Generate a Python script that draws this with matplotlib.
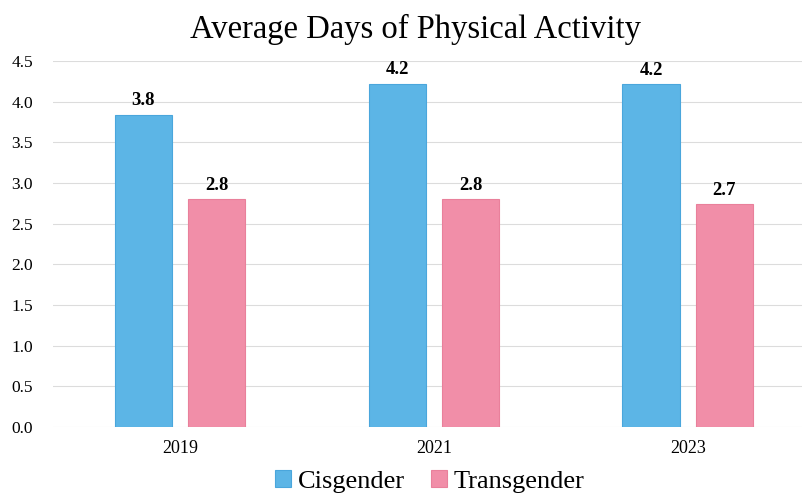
import matplotlib
matplotlib.use("Agg")
from matplotlib import pyplot as plt
import numpy as np

# data
years = ["2019", "2021", "2023"]
cisgender = [3.84, 4.22, 4.21]
transgender = [2.80, 2.80, 2.74]
series_names = ["Cisgender", "Transgender"]

plt.rcParams['font.family'] = ['Liberation Serif', 'DejaVu Serif']

fig = plt.figure(figsize=(8.06, 4.95), dpi=100)
ax = fig.add_axes([53 / 806, 0.137, 749 / 806, 0.740])

x = np.arange(len(years))
width = 0.225
gap = 0.032
blue = "#5cb5e6"
pink = "#f18ea8"

b1 = ax.bar(x - width / 2 - gap, cisgender, width, color=blue,
            edgecolor="#4aa6dc", linewidth=0.8, label=series_names[0], zorder=3)
b2 = ax.bar(x + width / 2 + gap, transgender, width, color=pink,
            edgecolor="#e9809b", linewidth=0.8, label=series_names[1], zorder=3)

for bars in (b1, b2):
    for rect in bars:
        h = rect.get_height()
        ax.annotate(f"{h:.1f}", (rect.get_x() + rect.get_width() / 2, h),
                    xytext=(0, 4), textcoords="offset points",
                    ha="center", va="bottom", fontsize=13.5, fontweight="bold")

ax.set_ylim(0, 4.5)
ax.set_yticks(np.arange(0, 4.51, 0.5))
ax.set_yticklabels([f"{v:.1f}" for v in np.arange(0, 4.51, 0.5)], fontsize=12.5)
ax.set_xlim(-0.5, 2.45)
ax.set_xticks(x)
ax.set_xticklabels(years, fontsize=13)
ax.tick_params(length=0)
ax.tick_params(axis="x", pad=9)
ax.tick_params(axis="y", pad=30)
for lbl in ax.get_yticklabels():
    lbl.set_horizontalalignment("left")

for s in ax.spines.values():
    s.set_visible(False)
ax.grid(axis="y", color="#dcdcdc", linewidth=0.8, zorder=0)
ax.set_axisbelow(True)

fig.text(0.515, 0.94, "Average Days of Physical Activity", fontsize=23.5,
         ha="center", va="center")

fig.legend(handles=[b1, b2], loc="center", ncol=2, frameon=False,
           fontsize=19, bbox_to_anchor=(0.533, 0.027), handlelength=0.6,
           handleheight=0.6, handletextpad=0.25, columnspacing=1.0,
           borderpad=0.1)

fig.savefig("out.png", dpi=100)
